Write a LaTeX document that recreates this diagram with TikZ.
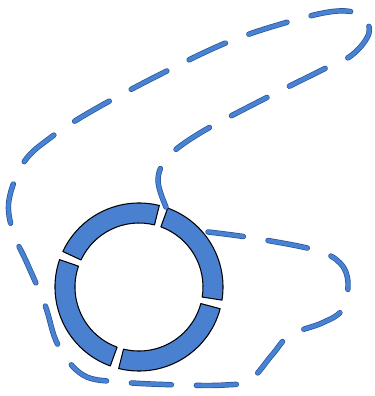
\documentclass[tikz,border=0pt]{standalone}
\usepackage{tikz}
\usetikzlibrary{arrows.meta}

\definecolor{ringblue}{RGB}{74,128,208}
\definecolor{loopblue}{RGB}{72,130,210}
\definecolor{loopedge}{RGB}{40,82,150}

\begin{document}
\begin{tikzpicture}[x=0.02cm, y=-0.02cm,
		ringseg/.style={draw=black, fill=ringblue, line width=0.6pt, line join=round},
		loopline/.style={loopblue, line width=2.3pt, line cap=round, dash pattern=on 0.8cm off 0.5cm,
			preaction={draw=loopedge, line width=3.1pt, line cap=round, dash pattern=on 0.8cm off 0.5cm}}]
		
		\useasboundingbox (0,0) rectangle (375,396);
		
		% ring in four pieces
		\coordinate (ctr) at (139,287);
		\foreach \a/\b in {-76/-155, -161/-250, -256/-345, -351/-430}
			\draw[ringseg, shift={(ctr)}] (\a:84) arc[start angle=\a, end angle=\b, radius=84]
				-- (\b:64) arc[start angle=\b, end angle=\a, radius=64] -- cycle;
		
		% dashed loop
		\draw[loopline] plot[smooth, tension=0.6] coordinates {
			(166,207) (158,180) (168,157) (200,133) (260,101) (322,70) (352,55) (369,33)
			(362,16) (338,11) (295,20) (228,42) (155,77) (90,112) (50,138) (24,162)
			(9,200) (13,232) (27,263) (45,305) (58,345) (83,375) (120,382) (180,385)
			(225,385) (250,380) (272,355) (290,335) (322,323) (342,310) (348,283)
			(340,263) (315,250) (253,238) (208,232)};
	\end{tikzpicture}
\end{document}
